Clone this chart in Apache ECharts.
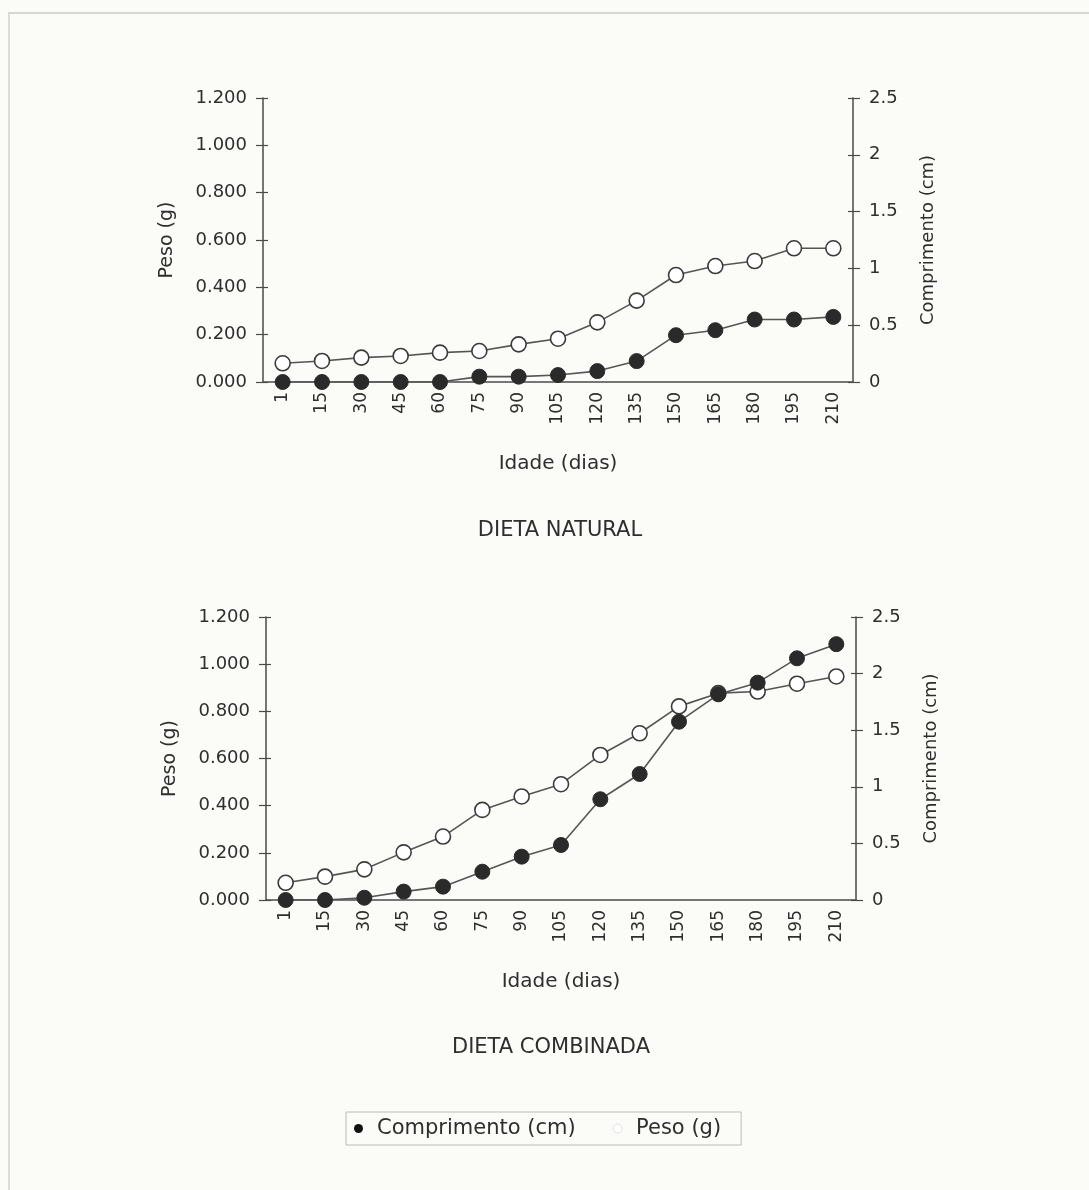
<!DOCTYPE html>
<html>
<head>
<meta charset="utf-8">
<script src="https://cdn.jsdelivr.net/npm/echarts@6/dist/echarts.min.js"></script>
<style>
  html, body { margin: 0; padding: 0; background: #fbfcf8; }
  #frame { position: absolute; left: 8px; top: 12px; width: 1081px; height: 1178px;
           border-top: 2px solid #d6d6d4; border-left: 2px solid #dcdcda; box-sizing: border-box; }
  #chart { position: absolute; left: 0; top: 0; width: 1089px; height: 1190px; }
</style>
</head>
<body>
<div id="frame"></div>
<div id="chart"></div>
<script>
// idade (dias)
const days = ['1', '15', '30', '45', '60', '75', '90', '105', '120', '135', '150', '165', '180', '195', '210']

// dieta natural
const natPeso = [0.079, 0.089, 0.103, 0.110, 0.124, 0.131, 0.159, 0.183, 0.252, 0.344, 0.452, 0.490, 0.511, 0.565, 0.565]
const natComp = [0, 0, 0, 0, 0, 0.047, 0.047, 0.061, 0.096, 0.184, 0.412, 0.456, 0.550, 0.550, 0.573]

// dieta combinada
const combPeso = [0.073, 0.099, 0.130, 0.202, 0.269, 0.382, 0.439, 0.491, 0.615, 0.707, 0.821, 0.877, 0.884, 0.917, 0.948]
const combComp = [0, 0, 0.020, 0.074, 0.118, 0.250, 0.383, 0.486, 0.890, 1.113, 1.575, 1.817, 1.920, 2.135, 2.260]

const pesoTicks = { min: 0, max: 1.2, interval: 0.2 }
const compTicks = { min: 0, max: 2.5, interval: 0.5 }

const ink = '#2e2e2e'
const axisColor = '#4a4a4a'
const font = 'DejaVu Sans, sans-serif'

const grids = [
  { left: 263, right: 236, top: 98, height: 284 },
  { left: 266, right: 233, top: 617, height: 283 },
]

function xAxes(g) {
  return [
    {
      type: 'category', gridIndex: g, data: days,
      name: 'Idade (dias)', nameLocation: 'middle', nameGap: 72,
      nameTextStyle: { color: ink, fontSize: 20, fontFamily: font },
      axisLine: { lineStyle: { color: axisColor, width: 1.5 } },
      axisTick: { length: 4, lineStyle: { color: axisColor, width: 1.2 } },
      axisLabel: { rotate: 90, color: ink, fontSize: 17, fontFamily: font, margin: 10 },
    },
    {
      // same axis again, only to draw the inner half of the ticks
      type: 'category', gridIndex: g, data: days, position: 'bottom',
      axisLine: { show: false },
      axisTick: { inside: true, length: 5, lineStyle: { color: axisColor, width: 1.2 } },
      axisLabel: { show: false },
    },
  ]
}

function yAxes(g) {
  const tickStyle = { color: axisColor, width: 1.2 }
  return [
    {
      type: 'value', gridIndex: g, position: 'left', ...pesoTicks,
      name: 'Peso (g)', nameLocation: 'middle', nameGap: 86, nameRotate: 90,
      nameTextStyle: { color: ink, fontSize: 19, fontFamily: font },
      axisLine: { show: true, lineStyle: { color: axisColor, width: 1.5 } },
      axisTick: { show: true, length: 7, lineStyle: tickStyle },
      axisLabel: { color: ink, fontSize: 18, fontFamily: font, margin: 16, formatter: v => v.toFixed(3) },
      splitLine: { show: false },
    },
    {
      type: 'value', gridIndex: g, position: 'right', ...compTicks,
      name: 'Comprimento (cm)', nameLocation: 'middle', nameGap: 66, nameRotate: 90,
      nameTextStyle: { color: ink, fontSize: 18, fontFamily: font },
      axisLine: { show: true, lineStyle: { color: axisColor, width: 1.5 } },
      axisTick: { show: true, length: 7, lineStyle: tickStyle },
      axisLabel: { color: ink, fontSize: 18, fontFamily: font, margin: 16 },
      splitLine: { show: false },
    },
    {
      type: 'value', gridIndex: g, position: 'left', ...pesoTicks,
      axisLine: { show: false }, axisLabel: { show: false }, splitLine: { show: false },
      axisTick: { show: true, inside: true, length: 5, lineStyle: tickStyle },
    },
    {
      type: 'value', gridIndex: g, position: 'right', ...compTicks,
      axisLine: { show: false }, axisLabel: { show: false }, splitLine: { show: false },
      axisTick: { show: true, inside: true, length: 5, lineStyle: tickStyle },
    },
  ]
}

function compSeries(g, data) {
  return {
    name: 'Comprimento (cm)', type: 'line', xAxisIndex: g * 2, yAxisIndex: g * 4 + 1,
    data, symbol: 'circle', symbolSize: 15, z: 3,
    lineStyle: { color: '#555', width: 1.6 },
    itemStyle: { color: '#2a2a2a', borderColor: '#2a2a2a', borderWidth: 1 },
    emphasis: { disabled: true },
  }
}

function pesoSeries(g, data) {
  return {
    name: 'Peso (g)', type: 'line', xAxisIndex: g * 2, yAxisIndex: g * 4,
    data, symbol: 'circle', symbolSize: 15, z: 2,
    lineStyle: { color: '#555', width: 1.6 },
    itemStyle: { color: '#fff', borderColor: '#3a3a3a', borderWidth: 1.6 },
    emphasis: { disabled: true },
  }
}

const chart = echarts.init(document.getElementById('chart'))
chart.setOption({
  backgroundColor: 'transparent',
  animation: false,
  grid: grids,
  xAxis: [...xAxes(0), ...xAxes(1)],
  yAxis: [...yAxes(0), ...yAxes(1)],
  legend: {
    top: 1112, left: 346,
    borderColor: '#bbb', borderWidth: 1,
    padding: [6, 20, 6, 8], itemGap: 37,
    itemWidth: 9, itemHeight: 9,
    textStyle: { color: ink, fontSize: 21, fontFamily: font, padding: [0, 0, 0, 9] },
    data: [
      { name: 'Comprimento (cm)', icon: 'circle', itemStyle: { color: '#111', borderWidth: 0 } },
      { name: 'Peso (g)', icon: 'circle', itemStyle: { color: '#fff', borderColor: '#ddd', borderWidth: 1 } },
    ],
    selectedMode: false,
  },
  graphic: [
    { type: 'text', x: 560, y: 531, style: { text: 'DIETA NATURAL', fill: ink, font: '21px ' + font, align: 'center', verticalAlign: 'middle' } },
    { type: 'text', x: 551, y: 1048, style: { text: 'DIETA COMBINADA', fill: ink, font: '21px ' + font, align: 'center', verticalAlign: 'middle' } },
  ],
  series: [
    pesoSeries(0, natPeso),
    compSeries(0, natComp),
    pesoSeries(1, combPeso),
    compSeries(1, combComp),
  ],
})
</script>
</body>
</html>
